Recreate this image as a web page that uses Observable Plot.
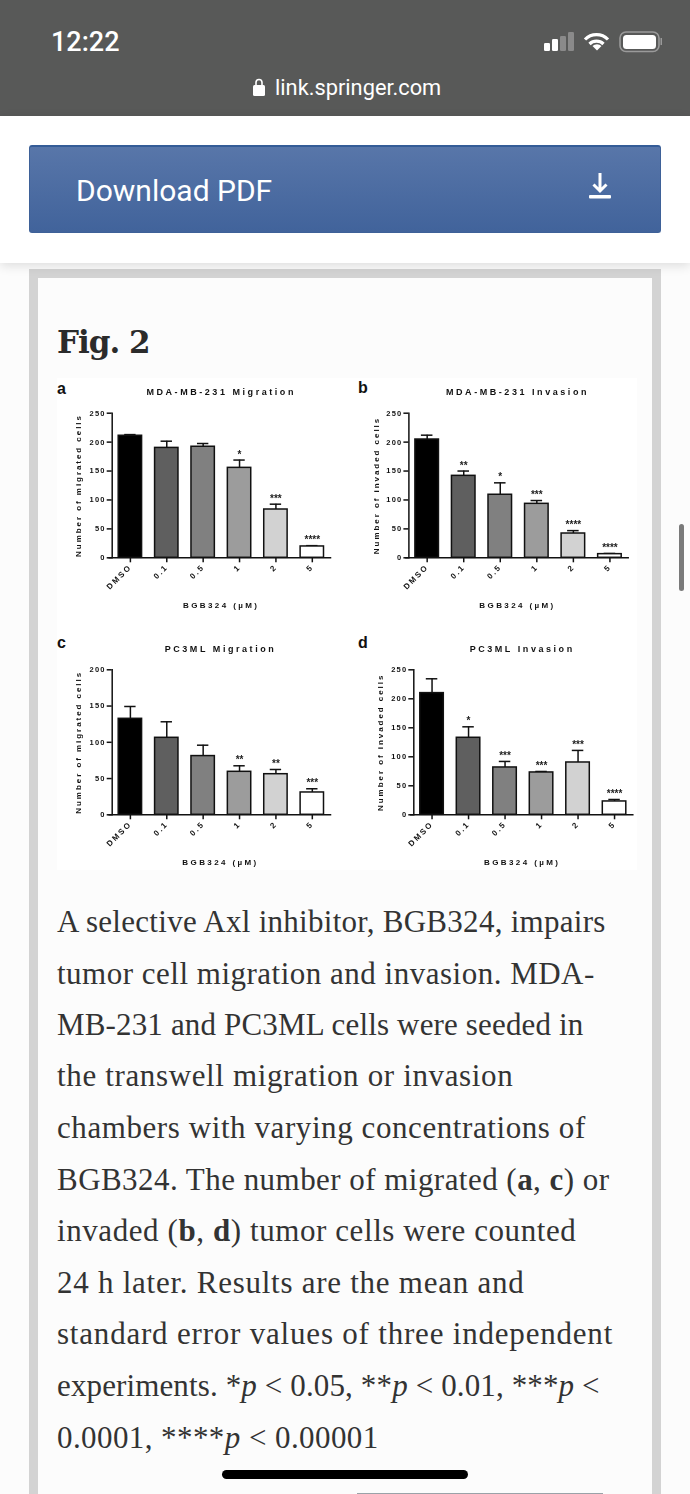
<!DOCTYPE html>
<html><head><meta charset="utf-8">
<script src="https://cdn.jsdelivr.net/npm/d3@7"></script>
<script src="https://cdn.jsdelivr.net/npm/@observablehq/plot@0.6"></script>
<style>
html,body{margin:0;padding:0;width:690px;height:1494px;overflow:hidden;background:#fcfcfc}
.abs{position:absolute}
#status{left:0;top:0;width:690px;height:116px;background:#585958}
#head{left:0;top:116px;width:690px;height:147px;background:#fff;box-shadow:0 3px 10px rgba(0,0,0,.12);z-index:2}
#btn{left:29px;top:145px;width:632px;height:88px;box-sizing:border-box;border-radius:3px;border:1px solid #3e6198;border-top:2px solid #345c97;background:linear-gradient(#5876a9,#41639b);z-index:3}
#panel{left:29px;top:269px;width:632px;height:1300px;box-sizing:border-box;border:9px solid #d3d3d3;background:#fcfcfc}
#fig{left:57px;top:378px;width:580px;height:492px;background:#fff}
.t{position:absolute;white-space:nowrap}
.line{position:absolute;left:57px;white-space:nowrap;font-family:"Liberation Serif",serif;font-size:31px;line-height:34px;color:#333}
.letter{position:absolute;font:bold 16px "Liberation Sans",sans-serif;color:#111;z-index:1}
</style></head><body>
<div class="abs" id="status"></div>
<div class="t" style="left:51px;top:26px;font:500 27px Roboto,sans-serif;color:#fff">12:22</div>
<svg class="abs" style="left:250px;top:76px" width="18" height="22"><rect x="3" y="9" width="12" height="11" rx="1.5" fill="#fff"/><path d="M6 9V6.500a3 3 0 0 1 6 0V9" fill="none" stroke="#fff" stroke-width="1.6"/></svg>
<div class="t" style="left:275px;top:75px;font:21.8px Roboto,sans-serif;color:#fff">link.springer.com</div>
<svg class="abs" style="left:540px;top:28px" width="125" height="28">
<rect x="4" y="15" width="6" height="8" rx="1.3" fill="#fff"/><rect x="12" y="11" width="6" height="12" rx="1.3" fill="#fff"/><rect x="20" y="8" width="6" height="15" rx="1.3" fill="#8a8a8a"/><rect x="28" y="4" width="6" height="19" rx="1.3" fill="#8a8a8a"/>
<path d="M45 11.500a16 16 0 0 1 23 0M49.500 16a10 10 0 0 1 14 0" fill="none" stroke="#fff" stroke-width="3.200"/><path d="M57 22.500L52.500 18a6.500 6.500 0 0 1 9 0Z" fill="#fff"/>
<rect x="80" y="4" width="39" height="19.500" rx="6" fill="none" stroke="#9a9a9a" stroke-width="1.6"/><rect x="83" y="7" width="33" height="14" rx="3.500" fill="#fff"/><rect x="120.500" y="10" width="1.500" height="7" fill="#9a9a9a"/>
</svg>
<div class="abs" id="head"></div>
<div class="abs" id="btn"></div>
<div class="t" style="left:76px;top:173px;font:30px Roboto,sans-serif;color:#fff;z-index:4">Download PDF</div>
<svg class="abs" style="left:585px;top:171px;z-index:4" width="30" height="30"><path d="M15 2V20M8.500 13.500L15 20L21.500 13.500" fill="none" stroke="#fff" stroke-width="3"/><rect x="4" y="24" width="22" height="3.500" rx="1" fill="#fff"/></svg>
<div class="abs" id="panel"></div>
<div class="t" style="left:57px;top:324px;font:bold 31px 'DejaVu Serif',serif;letter-spacing:-1px;color:#2b2b2b">Fig. 2</div>
<div class="abs" id="fig"></div>
<div class="letter" style="left:57px;top:380px">a</div>
<div class="letter" style="left:358px;top:379px">b</div>
<div class="letter" style="left:57px;top:634px">c</div>
<div class="letter" style="left:358px;top:634px">d</div>
<div id="charts"></div>
<div class="line" style="top:905px;letter-spacing:.28px">A selective Axl inhibitor, BGB324, impairs</div>
<div class="line" style="top:957px;letter-spacing:.5px">tumor cell migration and invasion. MDA-</div>
<div class="line" style="top:1008px;letter-spacing:.16px">MB-231 and PC3ML cells were seeded in</div>
<div class="line" style="top:1059px;letter-spacing:.64px">the transwell migration or invasion</div>
<div class="line" style="top:1111px;letter-spacing:.58px">chambers with varying concentrations of</div>
<div class="line" style="top:1163px;letter-spacing:.46px">BGB324. The number of migrated (<b>a</b>, <b>c</b>) or</div>
<div class="line" style="top:1214px;letter-spacing:.58px">invaded (<b>b</b>, <b>d</b>) tumor cells were counted</div>
<div class="line" style="top:1266px;letter-spacing:.74px">24 h later. Results are the mean and</div>
<div class="line" style="top:1317px;letter-spacing:.8px">standard error values of three independent</div>
<div class="line" style="top:1369px;letter-spacing:.13px">experiments. *<i>p</i> &lt; 0.05, **<i>p</i> &lt; 0.01, ***<i>p</i> &lt;</div>
<div class="line" style="top:1421px;letter-spacing:.42px">0.0001, ****<i>p</i> &lt; 0.00001</div>
<div class="abs" style="left:222px;top:1470px;width:246px;height:9px;border-radius:5px;background:#000;z-index:5"></div>
<div class="abs" style="left:357px;top:1493px;width:246px;height:1px;background:#9aa2a8"></div>
<div class="abs" style="left:679px;top:524px;width:5px;height:67px;border-radius:3px;background:#7a7a7a"></div>
<script>
const doses = ["DMSO","0.1","0.5","1","2","5"];
const grays = ["#000000","#5f5f5f","#808080","#9c9c9c","#d2d2d2","#ffffff"];
const xLabel = "BGB324 (µM)";

const aTitle = "MDA-MB-231 Migration";
const aYLabel = "Number of migrated cells";
const aMean = [211,190,192,155.5,83.5,19.6];
const aTop  = [213,201.6,197.6,169,92.7,21];
const aStars = ["","","","*","***","****"];

const bTitle = "MDA-MB-231 Invasion";
const bYLabel = "Number of invaded cells";
const bMean = [204.5,141.7,109,93.3,42,6.3];
const bTop  = [212,150,129.6,99,47,7.5];
const bStars = ["","**","*","***","****","****"];

const cTitle = "PC3ML Migration";
const cYLabel = "Number of migrated cells";
const cMean = [132.4,106.2,81,59.3,56,30.8];
const cTop  = [149.4,128.3,96,67.6,62.5,35.9];
const cStars = ["","","","**","**","***"];

const dTitle = "PC3ML Invasion";
const dYLabel = "Number of invaded cells";
const dMean = [209.8,132.8,81.6,73,90.2,23];
const dTop  = [234.5,151.7,92,74.7,111,26.4];
const dStars = ["","*","***","***","***","****"];

function panel(o){
  const data = doses.map((dose,i)=>({dose,mean:o.mean[i],top:o.top[i],star:o.stars[i]}));
  const sw = 1.5;
  const left = o.axisX - o.x0, width = o.w, right = width - (o.axisEnd - o.x0);
  const svg = Plot.plot({
    width, height:o.h,
    marginLeft:left, marginRight:right, marginTop:o.yTop-o.y0, marginBottom:o.h-(o.yBase-o.y0),
    style:{fontFamily:"'Liberation Sans',sans-serif",fontWeight:"bold",fontSize:"7px",color:"#111",background:"transparent",position:"absolute",left:o.x0+"px",top:o.y0+"px",maxWidth:"none",filter:"blur(0.2px)"},
    x:{domain:doses,padding:0,align:0.5,round:false,label:null},
    y:{domain:[0,o.max],label:null},
    color:{domain:doses,range:grays},
    marks:[
      Plot.ruleX(data,{x:"dose",y1:"mean",y2:"top",stroke:"#111",strokeWidth:sw}),
      Plot.tickY(data,{x:"dose",y:"top",stroke:"#111",strokeWidth:sw,insetLeft:12.5,insetRight:12.5}),
      Plot.barY(data,{x:"dose",y:"mean",fill:"dose",stroke:"#111",strokeWidth:sw,insetLeft:6.5,insetRight:6.5}),
      Plot.text(data,{x:"dose",y:"top",text:"star",dy:-2.5,fontSize:10,lineAnchor:"bottom",fill:"#222"}),
      Plot.axisY({ticks:d3.range(0,o.max+1,50),tickSize:5,tickPadding:1.5,stroke:"#111",strokeWidth:sw,label:null,fontSize:7.5}),
      Plot.axisX({tickSize:5,tickPadding:3,tickRotate:-45,stroke:"#111",strokeWidth:sw,label:null,fontSize:8}),
      Plot.frame({anchor:"left",stroke:"#111",strokeWidth:sw}),
      Plot.frame({anchor:"bottom",stroke:"#111",strokeWidth:sw,insetLeft:-3}),
      Plot.text([o.title],{frameAnchor:"top",dy:o.titleY-o.yTop,dx:o.titleX-(o.axisX+o.axisEnd)/2,fontSize:9,fill:"#111",lineAnchor:"middle"}),
      Plot.text([xLabel],{frameAnchor:"bottom",dy:o.xLabelY-o.yBase,dx:o.titleX-(o.axisX+o.axisEnd)/2,fontSize:8,fill:"#111",lineAnchor:"middle"}),
      Plot.text([o.yLabel],{frameAnchor:"left",dx:o.yLabelX-o.axisX,rotate:-90,textAnchor:"middle",fontSize:8,fill:"#111"})
    ]
  });
  const spacing = new Map([[o.title,"2.55px"],[xLabel,"2.4px"],[o.yLabel,"1.95px"]]);
  d3.select(svg).selectAll("text").each(function(){
    const s = this.textContent;
    if (/^\**$/.test(s)) return;
    this.style.letterSpacing = spacing.get(s) || (doses.includes(s) ? "1.9px" : "1.2px");
  });
  document.getElementById("charts").appendChild(svg);
}
panel({x0:57,y0:380,w:285,h:235,axisX:111.7,axisEnd:330,yTop:412.7,yBase:557.3,max:250,mean:aMean,top:aTop,stars:aStars,title:aTitle,yLabel:aYLabel,titleX:220.7,titleY:391.7,xLabelY:605,yLabelX:78});
panel({x0:350,y0:380,w:287,h:235,axisX:408.4,axisEnd:627.7,yTop:412.7,yBase:557.3,max:250,mean:bMean,top:bTop,stars:bStars,title:bTitle,yLabel:bYLabel,titleX:517,titleY:391.7,xLabelY:605,yLabelX:375.7});
panel({x0:57,y0:635,w:285,h:235,axisX:111.7,axisEnd:330,yTop:669.3,yBase:814.3,max:200,mean:cMean,top:cTop,stars:cStars,title:cTitle,yLabel:cYLabel,titleX:220,titleY:649,xLabelY:862.3,yLabelX:78});
panel({x0:350,y0:635,w:287,h:235,axisX:413.3,axisEnd:632.3,yTop:669.3,yBase:814.3,max:250,mean:dMean,top:dTop,stars:dStars,title:dTitle,yLabel:dYLabel,titleX:521.7,titleY:649,xLabelY:862.3,yLabelX:380});
</script>
</body></html>
